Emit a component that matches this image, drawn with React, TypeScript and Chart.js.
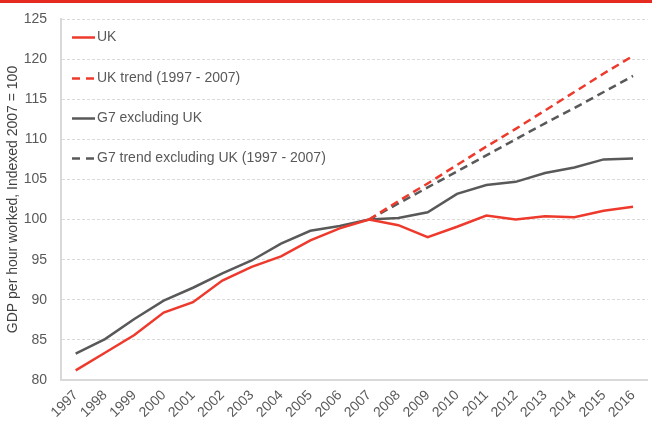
import React, { useEffect, useRef } from "react";
import { Chart, registerables } from "chart.js";

Chart.register(...registerables);

const years = ["1997","1998","1999","2000","2001","2002","2003","2004","2005","2006","2007","2008","2009","2010","2011","2012","2013","2014","2015","2016"];
const ukValues = [81.2, 83.4, 85.6, 88.4, 89.7, 92.4, 94.1, 95.4, 97.4, 98.9, 100.0, 99.3, 97.8, 99.1, 100.5, 100.0, 100.4, 100.3, 101.1, 101.6];
const ukTrend = [null, null, null, null, null, null, null, null, null, null, 100.0, 102.3, 104.5, 106.8, 109.1, 111.3, 113.6, 115.9, 118.2, 120.4];
const g7Values = [83.3, 85.1, 87.6, 89.9, 91.5, 93.3, 94.9, 97.0, 98.6, 99.2, 100.0, 100.2, 100.9, 103.2, 104.3, 104.7, 105.8, 106.5, 107.5, 107.6];
const g7Trend = [null, null, null, null, null, null, null, null, null, null, 100.0, 102.0, 104.0, 106.0, 108.0, 110.0, 112.0, 113.9, 115.9, 117.9];
const seriesLabels = ["UK", "UK trend (1997 - 2007)", "G7 excluding UK", "G7 trend excluding UK (1997 - 2007)"];
const yTitle = "GDP per hour worked, Indexed 2007 = 100";

const RED = "#ee3a2c";
const GREY = "#595959";
const FONT = "'Liberation Sans', Arial, sans-serif";

const legendPlugin = {
  id: "inlineLegend",
  afterDraw(chart: any) {
    const ctx = chart.ctx;
    const area = chart.chartArea;
    const yScale = chart.scales.y;
    ctx.save();
    ctx.fillStyle = "#e52b20";
    ctx.fillRect(0, 0, chart.width, 3);
    const centers = [122.75, 117.65, 112.65, 107.65];
    chart.data.datasets.forEach((ds: any, i: number) => {
      const y = Math.round(yScale.getPixelForValue(centers[i])) + 0.5;
      const x0 = area.left + 11;
      const x1 = x0 + 23;
      ctx.strokeStyle = ds.borderColor;
      ctx.lineWidth = 2.5;
      ctx.setLineDash(ds.borderDash && ds.borderDash.length ? [8, 6] : []);
      ctx.beginPath();
      ctx.moveTo(x0, y);
      ctx.lineTo(x1, y);
      ctx.stroke();
      ctx.setLineDash([]);
      ctx.fillStyle = GREY;
      ctx.font = `14px ${FONT}`;
      ctx.textBaseline = "middle";
      ctx.textAlign = "left";
      ctx.fillText(ds.label, x1 + 2, y);
    });
    ctx.restore();
  },
};

export default function App() {
  const ref = useRef<HTMLCanvasElement | null>(null);
  useEffect(() => {
    document.body.style.margin = "0";
    const canvas = ref.current!;
    const chart = new Chart(canvas, {
      type: "line",
      data: {
        labels: years,
        datasets: [
          { label: seriesLabels[0], data: ukValues, borderColor: RED, borderWidth: 2.5, pointRadius: 0, tension: 0, fill: false },
          { label: seriesLabels[1], data: ukTrend, borderColor: RED, borderWidth: 2.5, borderDash: [8, 5], pointRadius: 0, tension: 0, fill: false },
          { label: seriesLabels[2], data: g7Values, borderColor: GREY, borderWidth: 2.5, pointRadius: 0, tension: 0, fill: false },
          { label: seriesLabels[3], data: g7Trend, borderColor: GREY, borderWidth: 2.5, borderDash: [8, 5], pointRadius: 0, tension: 0, fill: false },
        ] as any,
      },
      options: {
        responsive: false,
        animation: false,
        layout: { padding: { top: 0, right: 4, left: 0, bottom: 0 } },
        plugins: { legend: { display: false }, tooltip: { enabled: false } },
        scales: {
          x: {
            offset: true,
            grid: { display: false, drawTicks: false },
            border: { display: true, color: "#d9d9d9", width: 2 },
            ticks: { color: GREY, font: { family: FONT, size: 14 }, maxRotation: 45, minRotation: 45, autoSkip: false, padding: 7 },
            afterFit: (s: any) => { s.height = 41; },
          },
          y: {
            min: 80,
            max: 125,
            grid: { color: "#d9d9d9", drawTicks: false, lineWidth: 1 },
            border: { display: true, color: "#d9d9d9", width: 2, dash: [3, 2] },
            ticks: { stepSize: 5, color: GREY, font: { family: FONT, size: 14 }, padding: 14 },
            title: { display: true, text: yTitle, color: "#404040", font: { family: FONT, size: 14 }, padding: { top: 5, bottom: 0 } },
            afterFit: (s: any) => { s.width = 61; s.paddingTop = 19; s.paddingBottom = 0; },
          },
        },
      } as any,
      plugins: [legendPlugin],
    });
    return () => chart.destroy();
  }, []);
  return (
    <div style={{ width: 652, height: 421 }}>
      <canvas ref={ref} width={652} height={421} style={{ display: "block" }} />
    </div>
  );
}
